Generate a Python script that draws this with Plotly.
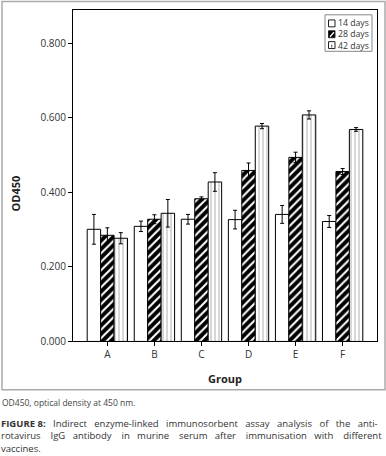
import plotly.graph_objects as go

groups = ["A", "B", "C", "D", "E", "F"]
series_names = ["14 days", "28 days", "42 days"]
values_14 = [0.301, 0.309, 0.328, 0.327, 0.341, 0.322]
errors_14 = [0.040, 0.014, 0.013, 0.025, 0.024, 0.016]
values_28 = [0.285, 0.328, 0.383, 0.459, 0.494, 0.456]
errors_28 = [0.020, 0.012, 0.005, 0.020, 0.014, 0.008]
values_42 = [0.277, 0.344, 0.428, 0.578, 0.608, 0.569]
errors_42 = [0.015, 0.037, 0.025, 0.007, 0.011, 0.005]
y_ticks = [0.0, 0.2, 0.4, 0.6, 0.8]

W, H = 386, 456
def px(x):
    return x / W
def py(y):
    return 1 - y / H

fig = go.Figure()
err_style = dict(type="data", color="black", thickness=1, width=2, visible=True)

fig.add_trace(go.Bar(
    name=series_names[0], x=groups, y=values_14,
    marker=dict(color="white", line=dict(color="black", width=1)),
    error_y=dict(array=errors_14, **err_style)))
fig.add_trace(go.Bar(
    name=series_names[1], x=groups, y=values_28,
    marker=dict(color="black", line=dict(color="black", width=1),
                pattern=dict(shape="/", fillmode="overlay", fgcolor="white",
                             bgcolor="black", size=6, solidity=0.35, fgopacity=1)),
    error_y=dict(array=errors_28, **err_style)))
fig.add_trace(go.Bar(
    name=series_names[2], x=groups, y=values_42,
    marker=dict(color="white", line=dict(color="black", width=1),
                pattern=dict(shape="|", fillmode="overlay", fgcolor="#9a9a9a",
                             bgcolor="white", size=4, solidity=0.2, fgopacity=1)),
    error_y=dict(array=errors_42, **err_style)))

font_family = "Open Sans, Noto Sans, sans-serif"

fig.update_layout(
    width=W, height=H,
    margin=dict(l=0, r=0, t=0, b=0),
    paper_bgcolor="white", plot_bgcolor="white",
    barmode="group", bargap=0.143, bargroupgap=0,
    font=dict(family=font_family, size=10, color="#333"),
    showlegend=False,
    xaxis=dict(domain=[px(73), px(377)], range=[-0.73, 5.73],
               showline=True, linecolor="black", linewidth=1, mirror=True,
               ticks="outside", ticklen=4, tickcolor="black",
               tickfont=dict(size=10, color="#333"), showgrid=False),
    yaxis=dict(domain=[py(346), py(10)], range=[0, 0.89],
               showline=True, linecolor="black", linewidth=1, mirror=True,
               ticks="outside", ticklen=4, tickcolor="black",
               tickvals=y_ticks, tickformat=".3f",
               tickfont=dict(size=10, color="#333"), showgrid=False, zeroline=False),
)

# axis titles
fig.add_annotation(text="<b>Group</b>", xref="paper", yref="paper", x=px(225), y=py(384),
                   xanchor="center", yanchor="middle", showarrow=False,
                   font=dict(family=font_family, size=11, color="#222"))
fig.add_annotation(text="<b>OD450</b>", xref="paper", yref="paper", x=px(15), y=py(196),
                   xanchor="center", yanchor="middle", showarrow=False, textangle=-90,
                   font=dict(family=font_family, size=11, color="#222"))

# outer figure frame
fig.add_shape(type="rect", xref="paper", yref="paper",
              x0=px(2), x1=px(385), y0=py(395), y1=py(1.5),
              line=dict(color="#aaaaaa", width=1.5), fillcolor="rgba(0,0,0,0)", layer="below")

# custom compact legend
fig.add_shape(type="rect", xref="paper", yref="paper",
              x0=px(325), x1=px(372), y0=py(52), y1=py(15),
              line=dict(color="#888", width=1), fillcolor="white")
legend_y = [23.7, 34.7, 45.7]
for i, name in enumerate(series_names):
    yc = legend_y[i]
    x0, x1, y0, y1 = 328.5, 335, yc - 3.5, yc + 3.5
    fill = "black" if i == 1 else "white"
    fig.add_shape(type="rect", xref="paper", yref="paper",
                  x0=px(x0), x1=px(x1), y0=py(y1), y1=py(y0),
                  line=dict(color="#222", width=1), fillcolor=fill)
    if i == 1:
        fig.add_shape(type="line", xref="paper", yref="paper",
                      x0=px(x0 + 1.5), y0=py(y1 - 1), x1=px(x1 - 1), y1=py(y0 + 1.5),
                      line=dict(color="white", width=1.3))
    if i == 2:
        fig.add_shape(type="line", xref="paper", yref="paper",
                      x0=px((x0 + x1) / 2), y0=py(y1 - 1), x1=px((x0 + x1) / 2), y1=py(y0 + 1),
                      line=dict(color="#555", width=1, dash="dot"))
fig.add_annotation(text="<br>".join(series_names), xref="paper", yref="paper",
                   x=px(337), y=py(34.7), xanchor="left", yanchor="middle", align="left",
                   showarrow=False, borderpad=0,
                   font=dict(family=font_family, size=8.7, color="#333"))

# captions
fig.add_annotation(text="OD450, optical density at 450 nm.", xref="paper", yref="paper",
                   x=0, y=py(408), xanchor="left", yanchor="middle", showarrow=False,
                   font=dict(family=font_family, size=8.5, color="#444"))

def justify(words, counts):
    out = words[0]
    for w, n in zip(words[1:], counts):
        out += " " * n + w
    return out

line1 = ["<b>FIGURE 8:</b>", "Indirect", "enzyme-linked", "immunosorbent", "assay",
         "analysis", "of", "the", "anti-"]
line2 = ["rotavirus", "IgG", "antibody", "in", "murine", "serum", "after",
         "immunisation", "with", "different"]
caption_text = (justify(line1, [3, 3, 3, 3, 3, 3, 3, 3]) + "<br>"
                + justify(line2, [4, 3, 4, 3, 4, 3, 4, 3, 4]) + "<br>vaccines.")
fig.add_annotation(text=caption_text, xref="paper", yref="paper",
                   x=0, y=py(421.5), xanchor="left", yanchor="top", align="left",
                   showarrow=False, borderpad=0,
                   font=dict(family=font_family, size=9.5, color="#333"))

fig.write_html("out.html", config={"displayModeBar": False},
               post_script="document.body.style.margin='0';document.body.style.overflow='hidden';")
